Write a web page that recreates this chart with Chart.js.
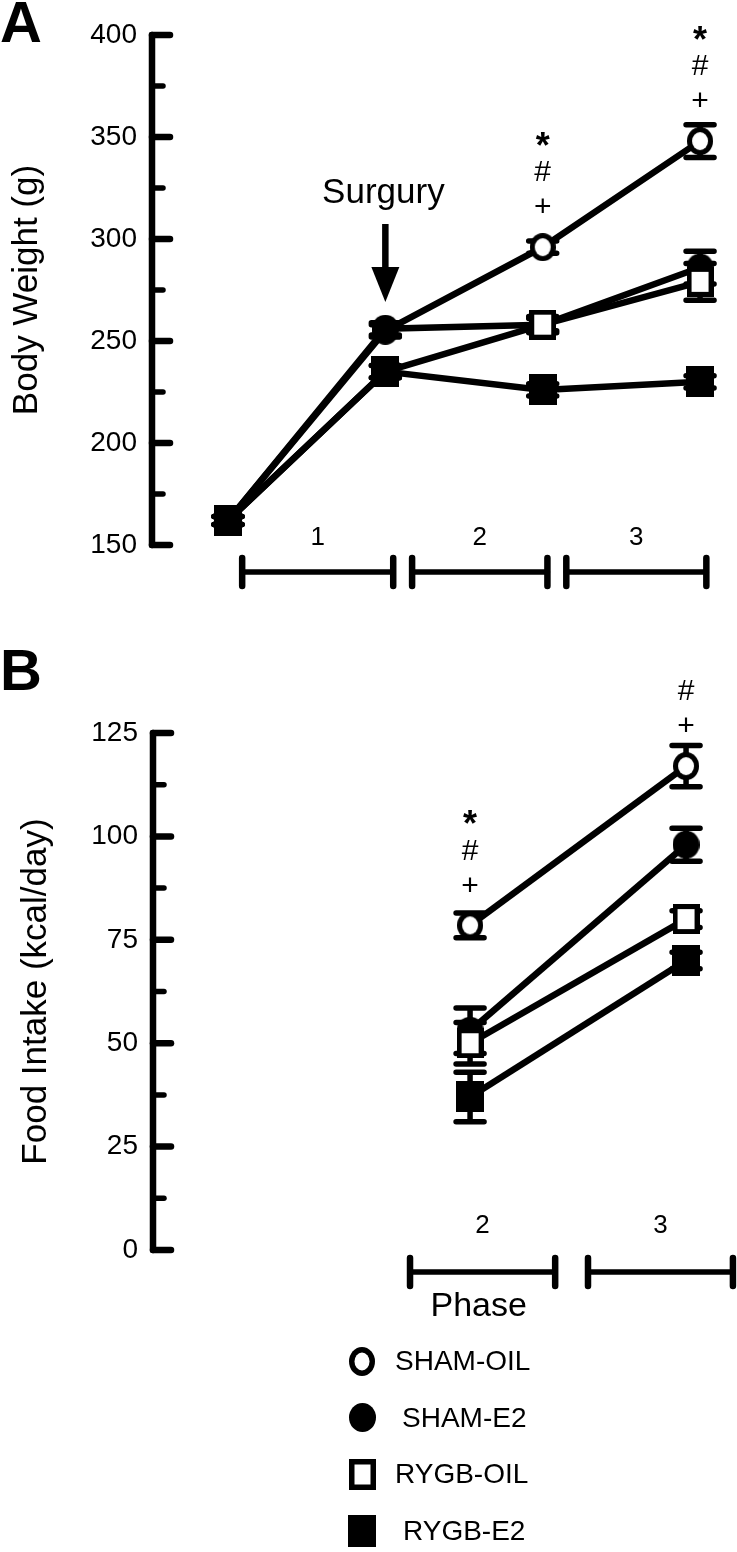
<!DOCTYPE html>
<html>
<head>
<meta charset="utf-8">
<script src="https://cdn.jsdelivr.net/npm/chart.js@4.4.1/dist/chart.umd.min.js"></script>
<style>
  html, body { margin: 0; padding: 0; background: #fff; }
  body { width: 737px; height: 1552px; position: relative; overflow: hidden; font-family: "Liberation Sans", Arial, sans-serif; color: #000; }
  canvas { position: absolute; left: 0; top: 0; }
  .letter { position: absolute; left: 0; font-weight: bold; font-size: 58px; line-height: 1; }
  .mk { position: absolute; }
  .lbl { position: absolute; font-size: 28px; line-height: 1; white-space: nowrap; }
</style>
</head>
<body>
<canvas id="chartA" width="737" height="1552"></canvas>
<canvas id="chartB" width="737" height="1552"></canvas>
<div class="letter" style="top:-7px">A</div>
<div class="letter" style="top:641px">B</div>
<div id="legend"></div>

<script>
const groups = ['SHAM-OIL', 'SHAM-E2', 'RYGB-OIL', 'RYGB-E2'];

// Panel A - body weight (g); x: 0 = start, 1 = surgery, 2 = end phase 2, 3 = end phase 3
const timeA = [0, 1, 2, 3];
const weightShamOil = [162, 255, 296, 348];
const weightShamE2 = [162, 256, 258, 286];
const weightRygbOil = [162, 235, 258, 279];
const weightRygbE2 = [162, 235, 226, 230];
const weightErrShamOil = [2, 3, 3, 8];
const weightErrShamE2 = [2, 3, 3, 8];
const weightErrRygbOil = [2, 3, 4, 9];
const weightErrRygbE2 = [2, 3, 3, 3];
const weightSigShamOil = ['', '', '*#+', '*#+'];
const weightTicks = [150, 200, 250, 300, 350, 400];

// Panel B - food intake (kcal/day) in phases 2 and 3
const timeB = [2, 3];
const intakeShamOil = [78.5, 117];
const intakeShamE2 = [53, 98];
const intakeRygbOil = [50, 80];
const intakeRygbE2 = [37, 70];
const intakeErrShamOil = [3, 5];
const intakeErrShamE2 = [5.5, 4];
const intakeErrRygbOil = [5, 2];
const intakeErrRygbE2 = [6, 2];
const intakeSigShamOil = ['*#+', '#+'];
const intakeTicks = [0, 25, 50, 75, 100, 125];

const phaseLabels = ['1', '2', '3'];

Chart.defaults.font.family = '"Liberation Sans", Arial, sans-serif';
Chart.defaults.color = '#000';

// small canvases used as point markers (and in the legend)
function makeMarker(shape, filled, w, h, bw) {
    const c = document.createElement('canvas');
    c.width = w;
    c.height = h;
    const ctx = c.getContext('2d');
    ctx.fillStyle = '#000';
    ctx.beginPath();
    if (shape === 'circle') ctx.ellipse(w / 2, h / 2, w / 2, h / 2, 0, 0, Math.PI * 2);
    else ctx.rect(0, 0, w, h);
    ctx.fill();
    if (!filled) {
        ctx.fillStyle = '#fff';
        ctx.beginPath();
        if (shape === 'circle') ctx.ellipse(w / 2, h / 2, w / 2 - bw, h / 2 - bw, 0, 0, Math.PI * 2);
        else ctx.rect(bw, bw, w - 2 * bw, h - 2 * bw);
        ctx.fill();
    }
    return c;
}

const markerSpecs = [
    ['circle', false, 26, 28, 5],
    ['circle', true, 27, 28, 0],
    ['rect', false, 27, 30, 5],
    ['rect', true, 28, 31, 0]
];

function makeDataset(i, xs, ys, errs, sig) {
    const spec = markerSpecs[i];
    return {
        label: groups[i],
        data: xs.map((x, k) => ({ x: x, y: ys[k] })),
        errors: errs,
        sig: sig || null,
        borderColor: '#000',
        borderWidth: 6.5,
        pointStyle: makeMarker(spec[0], spec[1], spec[2], spec[3], spec[4]),
        pointRadius: 14,
        pointBorderWidth: 0,
        pointHoverRadius: 0,
        tension: 0,
        fill: false,
        clip: false,
        order: 4 - i
    };
}

// y axis line plus long/short tick marks
const axisPlugin = {
    id: 'axisPlugin',
    afterDraw(chart) {
        const ctx = chart.ctx;
        const y = chart.scales.y;
        const left = chart.chartArea.left;
        ctx.save();
        ctx.strokeStyle = '#000';
        ctx.lineCap = 'round';
        ctx.lineWidth = 6.5;
        ctx.beginPath();
        ctx.moveTo(left, y.getPixelForValue(y.max));
        ctx.lineTo(left, y.getPixelForValue(y.min));
        ctx.stroke();
        y.ticks.forEach(t => {
            const py = y.getPixelForValue(t.value);
            const major = t.label !== '';
            ctx.lineWidth = major ? 6.5 : 5.5;
            ctx.beginPath();
            ctx.moveTo(left, py);
            ctx.lineTo(left + (major ? 18 : 11), py);
            ctx.stroke();
        });
        ctx.restore();
    }
};

// error bars under the markers
const errorPlugin = {
    id: 'errorPlugin',
    beforeDatasetsDraw(chart) {
        const ctx = chart.ctx;
        const y = chart.scales.y;
        ctx.save();
        ctx.strokeStyle = '#000';
        ctx.lineWidth = 5.5;
        ctx.lineCap = 'round';
        chart.data.datasets.forEach((ds, i) => {
            const meta = chart.getDatasetMeta(i);
            meta.data.forEach((pt, k) => {
                const v = ds.data[k].y, e = ds.errors[k];
                const top = y.getPixelForValue(v + e), bot = y.getPixelForValue(v - e);
                ctx.beginPath();
                ctx.moveTo(pt.x, top); ctx.lineTo(pt.x, bot);
                ctx.moveTo(pt.x - 14, top); ctx.lineTo(pt.x + 14, top);
                ctx.moveTo(pt.x - 14, bot); ctx.lineTo(pt.x + 14, bot);
                ctx.stroke();
            });
        });
        ctx.restore();
    }
};

// significance symbols stacked above points
const sigPlugin = {
    id: 'sigPlugin',
    afterDatasetsDraw(chart) {
        const ctx = chart.ctx;
        ctx.save();
        ctx.fillStyle = '#000';
        ctx.textAlign = 'center';
        ctx.textBaseline = 'middle';
        chart.data.datasets.forEach((ds, i) => {
            if (!ds.sig) return;
            const meta = chart.getDatasetMeta(i);
            ds.sig.forEach((s, k) => {
                if (!s) return;
                const pt = meta.data[k];
                s.split('').reverse().forEach((c, n) => {
                    const star = c === '*';
                    ctx.font = (star ? 'bold 36px' : '30px') + ' "Liberation Sans", Arial, sans-serif';
                    ctx.fillText(c, pt.x, pt.y - 39 - n * 35 + (star ? 10 : 0));
                });
            });
        });
        ctx.restore();
    }
};

// phase bars under the plot
const phasePlugin = {
    id: 'phasePlugin',
    afterDraw(chart, args, opts) {
        const ctx = chart.ctx;
        const x = chart.scales.x;
        ctx.save();
        ctx.strokeStyle = '#000';
        ctx.fillStyle = '#000';
        ctx.lineCap = 'round';
        ctx.textAlign = 'center';
        ctx.textBaseline = 'middle';
        ctx.font = '26px "Liberation Sans", Arial, sans-serif';
        opts.spans.forEach((sp, k) => {
            const x0 = x.getPixelForValue(sp[0]), x1 = x.getPixelForValue(sp[1]);
            ctx.lineWidth = 5.5;
            ctx.beginPath();
            ctx.moveTo(x0, opts.barY); ctx.lineTo(x1, opts.barY);
            ctx.stroke();
            ctx.lineWidth = 6.5;
            ctx.beginPath();
            ctx.moveTo(x0, opts.barY - 14); ctx.lineTo(x0, opts.barY + 14);
            ctx.moveTo(x1, opts.barY - 14); ctx.lineTo(x1, opts.barY + 14);
            ctx.stroke();
            ctx.fillText(opts.labels[k], (x0 + x1) / 2, opts.labelY);
        });
        if (opts.title) {
            ctx.font = '34px "Liberation Sans", Arial, sans-serif';
            ctx.fillText(opts.title, x.getPixelForValue(opts.titleX), opts.titleY);
        }
        ctx.restore();
    }
};

// "Surgury" arrow pointing at the surgery time point
const surgeryPlugin = {
    id: 'surgeryPlugin',
    afterDraw(chart, args, opts) {
        if (!opts.text) return;
        const ctx = chart.ctx;
        const px = chart.scales.x.getPixelForValue(opts.at);
        ctx.save();
        ctx.fillStyle = '#000';
        ctx.strokeStyle = '#000';
        ctx.textAlign = 'center';
        ctx.textBaseline = 'middle';
        ctx.font = '35px "Liberation Sans", Arial, sans-serif';
        ctx.fillText(opts.text, px - 2, 193);
        ctx.lineWidth = 6.5;
        ctx.beginPath();
        ctx.moveTo(px, 224); ctx.lineTo(px, 272);
        ctx.stroke();
        ctx.beginPath();
        ctx.moveTo(px - 14, 267); ctx.lineTo(px + 14, 267); ctx.lineTo(px, 302);
        ctx.closePath();
        ctx.fill();
        ctx.restore();
    }
};

function yScale(min, max, step, labelled, title, titlePad, axisLeft) {
    return {
        min: min,
        max: max,
        ticks: {
            stepSize: step,
            autoSkip: false,
            callback: v => labelled.includes(v) ? String(v) : '',
            font: { size: 28 },
            color: '#000',
            padding: 15
        },
        grid: { display: false, drawTicks: false },
        border: { display: false },
        title: { display: true, text: title, font: { size: 35 }, color: '#000', padding: { top: titlePad, bottom: 0 } },
        afterFit: s => { s.width = axisLeft; }
    };
}

const chartA = new Chart(document.getElementById('chartA'), {
    type: 'line',
    data: {
        datasets: [
            makeDataset(0, timeA, weightShamOil, weightErrShamOil, weightSigShamOil),
            makeDataset(1, timeA, weightShamE2, weightErrShamE2),
            makeDataset(2, timeA, weightRygbOil, weightErrRygbOil),
            makeDataset(3, timeA, weightRygbE2, weightErrRygbE2)
        ]
    },
    options: {
        responsive: false,
        animation: false,
        events: [],
        layout: { padding: { top: 35, bottom: 1552 - 545, left: 0, right: 22 } },
        plugins: {
            legend: { display: false },
            tooltip: { enabled: false },
            phasePlugin: { spans: [[0.09, 1.05], [1.17, 2.03], [2.15, 3.04]], labels: phaseLabels, barY: 572, labelY: 538 },
            surgeryPlugin: { text: 'Surgury', at: 1 }
        },
        scales: {
            x: { type: 'linear', min: -0.483, max: 3.095, display: false },
            y: yScale(150, 400, 25, weightTicks, 'Body Weight (g)', 6, 152)
        }
    },
    plugins: [axisPlugin, errorPlugin, sigPlugin, phasePlugin, surgeryPlugin]
});

const chartB = new Chart(document.getElementById('chartB'), {
    type: 'line',
    data: {
        datasets: [
            makeDataset(0, timeB, intakeShamOil, intakeErrShamOil, intakeSigShamOil),
            makeDataset(1, timeB, intakeShamE2, intakeErrShamE2),
            makeDataset(2, timeB, intakeRygbOil, intakeErrRygbOil),
            makeDataset(3, timeB, intakeRygbE2, intakeErrRygbE2)
        ]
    },
    options: {
        responsive: false,
        animation: false,
        events: [],
        layout: { padding: { top: 733, bottom: 1552 - 1250, left: 0, right: 22 } },
        plugins: {
            legend: { display: false },
            tooltip: { enabled: false },
            phasePlugin: { spans: [[1.722, 2.394], [2.546, 3.217]], labels: phaseLabels.slice(1), barY: 1272, labelY: 1226, title: 'Phase', titleX: 2.04, titleY: 1307 },
            surgeryPlugin: {}
        },
        scales: {
            x: { type: 'linear', min: 0.532, max: 3.134, display: false },
            y: yScale(0, 125, 12.5, intakeTicks, 'Food Intake (kcal/day)', 15, 153)
        }
    },
    plugins: [axisPlugin, errorPlugin, sigPlugin, phasePlugin, surgeryPlugin]
});

// legend below panel B
const legendEl = document.getElementById('legend');
const legendTextX = [395, 402, 395, 403];
groups.forEach((g, i) => {
    const cy = 1361 + i * 56.5;
    const spec = markerSpecs[i];
    const mk = makeMarker(spec[0], spec[1], spec[2], spec[3] + 1, spec[4] + 0.5);
    mk.className = 'mk';
    mk.style.left = (362 - mk.width / 2) + 'px';
    mk.style.top = (cy - mk.height / 2) + 'px';
    legendEl.appendChild(mk);
    const lbl = document.createElement('span');
    lbl.className = 'lbl';
    lbl.textContent = g;
    lbl.style.left = legendTextX[i] + 'px';
    lbl.style.top = (cy - 14) + 'px';
    legendEl.appendChild(lbl);
});
</script>
</body>
</html>
